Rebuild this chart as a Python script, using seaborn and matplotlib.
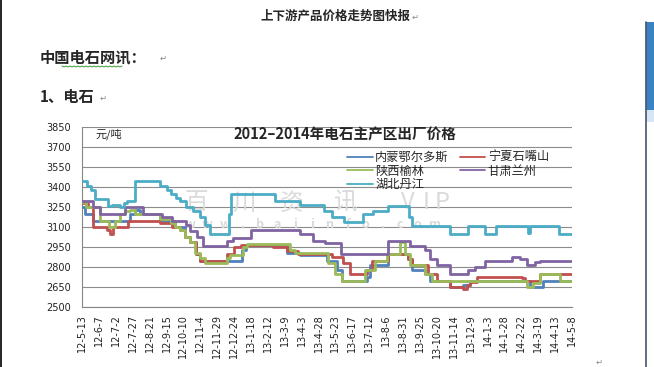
import pandas as pd
import matplotlib
matplotlib.use("Agg")
import matplotlib.pyplot as plt
from matplotlib.lines import Line2D
from matplotlib.patches import Rectangle
import seaborn as sns

regions = ["内蒙鄂尔多斯", "宁夏石嘴山", "陕西榆林", "甘肃兰州", "湖北丹江"]
colors = ["#4F81BD", "#C0504D", "#9BBB59", "#8064A2", "#4BACC6"]

# price change points (date, yuan/ton)
nm_dates = ["2012-05-13", "2012-05-17", "2012-05-29", "2012-07-23", "2012-07-30", "2012-08-07",
            "2012-09-05", "2012-09-28", "2012-10-12", "2012-10-20", "2012-10-29", "2012-11-04",
            "2013-01-05", "2013-01-11", "2013-03-12", "2013-04-01", "2013-05-10", "2013-05-25",
            "2013-06-02", "2013-07-09", "2013-07-13", "2013-08-09", "2013-09-07", "2013-09-13",
            "2013-10-03", "2013-10-10", "2013-11-09", "2013-11-28", "2013-12-08", "2014-03-07",
            "2014-03-26", "2014-05-06"]
nm_prices = [3250, 3200, 3150, 3200, 3230, 3200,
             3150, 3100, 3030, 2990, 2900, 2850,
             2930, 2965, 2910, 2890, 2850, 2780,
             2700, 2730, 2820, 2900, 2860, 2780,
             2750, 2700, 2650, 2670, 2700, 2650,
             2700, 2700]

nx_dates = ["2012-05-13", "2012-05-22", "2012-05-29", "2012-06-19", "2012-06-23", "2012-06-28",
            "2012-07-20", "2012-09-05", "2012-09-23", "2012-10-05", "2012-10-12", "2012-10-20",
            "2012-10-29", "2012-11-04", "2012-12-14", "2012-12-24", "2013-01-03", "2013-02-20",
            "2013-03-12", "2013-03-29", "2013-05-18", "2013-06-03", "2013-06-14", "2013-07-09",
            "2013-07-16", "2013-08-09", "2013-09-07", "2013-09-13", "2013-10-07", "2013-10-20",
            "2013-11-09", "2013-11-28", "2013-12-04", "2013-12-08", "2013-12-18", "2014-02-23",
            "2014-02-27", "2014-03-22", "2014-05-06"]
nx_prices = [3280, 3250, 3100, 3080, 3050, 3100,
             3150, 3130, 3100, 3080, 3030, 2990,
             2900, 2850, 2900, 2950, 2965, 2950,
             2920, 2900, 2880, 2830, 2750, 2780,
             2850, 2900, 2860, 2820, 2750, 2700,
             2650, 2640, 2670, 2690, 2730, 2720,
             2700, 2750, 2750]

sx_dates = ["2012-05-13", "2012-05-19", "2012-06-09", "2012-06-22", "2012-07-01", "2012-07-08",
            "2012-07-16", "2012-07-23", "2012-07-30", "2012-09-05", "2012-09-22", "2012-09-28",
            "2012-10-05", "2012-10-12", "2012-10-20", "2012-10-27", "2012-11-04", "2012-11-11",
            "2012-12-14", "2012-12-18", "2013-01-06", "2013-01-12", "2013-03-17", "2013-03-24",
            "2013-05-12", "2013-05-22", "2013-06-02", "2013-07-06", "2013-07-21", "2013-08-07",
            "2013-08-27", "2013-09-03", "2013-09-10", "2013-10-03", "2013-10-13", "2014-03-02",
            "2014-03-11", "2014-03-22", "2014-04-20", "2014-05-06"]
sx_prices = [3290, 3250, 3150, 3100, 3150, 3200,
             3220, 3230, 3200, 3160, 3130, 3100,
             3080, 3030, 2990, 2910, 2870, 2830,
             2870, 2890, 2955, 2975, 2930, 2910,
             2830, 2750, 2700, 2780, 2850, 2900,
             2990, 2900, 2820, 2750, 2700, 2650,
             2680, 2750, 2700, 2700]

gs_dates = ["2012-05-13", "2012-05-29", "2012-06-09", "2012-07-16", "2012-08-11", "2012-09-08",
            "2012-09-23", "2012-10-14", "2012-10-20", "2012-10-30", "2012-11-08", "2012-12-14",
            "2012-12-22", "2013-01-18", "2013-04-01", "2013-04-20", "2013-05-08", "2013-05-31",
            "2013-08-09", "2013-09-10", "2013-10-03", "2013-10-10", "2013-10-20", "2013-11-09",
            "2013-12-05", "2013-12-15", "2013-12-30", "2014-02-08", "2014-02-20", "2014-03-02",
            "2014-03-14", "2014-03-22", "2014-05-06"]
gs_prices = [3300, 3250, 3200, 3250, 3200, 3180,
             3150, 3120, 3070, 3030, 2960, 3000,
             3020, 3080, 3050, 3000, 2980, 2900,
             3000, 2960, 2930, 2860, 2820, 2750,
             2780, 2800, 2850, 2880, 2860, 2820,
             2840, 2850, 2850]

hb_dates = ["2012-05-13", "2012-05-20", "2012-05-26", "2012-06-01", "2012-06-20", "2012-06-26",
            "2012-07-08", "2012-07-14", "2012-07-18", "2012-07-30", "2012-09-05", "2012-09-16",
            "2012-09-22", "2012-09-29", "2012-10-05", "2012-10-14", "2012-10-24", "2012-11-04",
            "2012-11-11", "2012-11-18", "2012-12-17", "2012-12-19", "2013-02-23", "2013-04-01",
            "2013-05-06", "2013-05-18", "2013-06-05", "2013-07-03", "2013-07-18", "2013-08-09",
            "2013-09-09", "2013-09-13", "2013-11-09", "2013-12-05", "2013-12-30", "2014-01-16",
            "2014-03-04", "2014-03-07", "2014-04-19", "2014-05-06"]
hb_prices = [3450, 3410, 3380, 3310, 3260, 3270,
             3250, 3280, 3300, 3450, 3410, 3380,
             3350, 3320, 3300, 3250, 3220, 3180,
             3120, 3050, 3200, 3350, 3300, 3270,
             3220, 3180, 3140, 3200, 3220, 3260,
             3180, 3110, 3050, 3110, 3050, 3110,
             3060, 3110, 3050, 3050]

tick_labels = ["12-5-13", "12-6-7", "12-7-2", "12-7-27", "12-8-21", "12-9-15", "12-10-10",
               "12-11-4", "12-11-29", "12-12-24", "13-1-18", "13-2-12", "13-3-9", "13-4-3",
               "13-4-28", "13-5-23", "13-6-17", "13-7-12", "13-8-6", "13-8-31", "13-9-25",
               "13-10-20", "13-11-14", "13-12-9", "14-1-3", "14-1-28", "14-2-22", "14-3-19",
               "14-4-13", "14-5-8"]
y_ticks = [2500, 2650, 2800, 2950, 3100, 3250, 3400, 3550, 3700, 3850]

series = [(nm_dates, nm_prices), (nx_dates, nx_prices), (sx_dates, sx_prices),
          (gs_dates, gs_prices), (hb_dates, hb_prices)]
frames = []
for name, (d, p) in zip(regions, series):
    frames.append(pd.DataFrame({"date": pd.to_datetime(d), "price": p, "region": name}))
df = pd.concat(frames, ignore_index=True)

sns.set_style("white")
plt.rcParams["font.family"] = ["Noto Sans CJK SC", "DejaVu Sans"]

W, H = 654, 367
fig = plt.figure(figsize=(W / 100, H / 100), dpi=100)
ax = fig.add_axes([82 / W, 1 - 307.3 / H, 490 / W, 180 / H])

def fx(px):
    return px / W

def fy(py):
    return 1 - py / H

# watermark behind the lines, letters spread out like the original stamp
wm_big = [("百", 196), ("川", 244), ("资", 292), ("讯", 345), ("V", 408), ("I", 426), ("P", 442)]
for ch, px in wm_big:
    ax.text(fx(px), fy(203), ch, transform=fig.transFigure, fontsize=17,
            color="#dadada", ha="center", va="center", zorder=1)
wm_small = "www.baiinfo.com"
for i, ch in enumerate(wm_small):
    ax.text(fx(190 + i * 17.5), fy(224), ch, transform=fig.transFigure, fontsize=9,
            fontweight="bold", color="#dadada", ha="center", va="center", zorder=1)

sns.lineplot(data=df, x="date", y="price", hue="region", hue_order=regions,
             palette=dict(zip(regions, colors)), drawstyle="steps-post", linewidth=2.0,
             estimator=None, legend=False, ax=ax, zorder=3)

ax.set_xlim(pd.Timestamp("2012-05-13"), pd.Timestamp("2014-05-08"))
ax.set_ylim(2500, 3850)
ax.set_yticks(y_ticks)
ax.set_yticklabels([str(v) for v in y_ticks], fontsize=7, family="DejaVu Sans", color="#222222")
tick_dates = pd.date_range("2012-05-13", periods=len(tick_labels), freq="25D")
ax.set_xticks(tick_dates)
ax.set_xticklabels(tick_labels, rotation=90, fontsize=7, family="DejaVu Sans", color="#222222")
ax.set_xlabel("")
ax.set_ylabel("")
ax.yaxis.grid(True, color="#8c8c8c", linewidth=0.8)
ax.xaxis.grid(False)
ax.set_axisbelow(True)
for s in ["top", "right"]:
    ax.spines[s].set_visible(False)
for s in ["left", "bottom"]:
    ax.spines[s].set_color("#868686")
    ax.spines[s].set_linewidth(0.8)
ax.tick_params(axis="both", direction="out", length=3, width=0.8, color="#868686", pad=2)
ax.tick_params(axis="y", pad=5)
ax.patch.set_alpha(0)

# chart title and unit
fig.text(fx(345), fy(134), "2012–2014年电石主产区出厂价格", fontsize=10.5, fontweight="bold",
         ha="center", va="center")
fig.text(fx(96), fy(134), "元/吨", fontsize=8, ha="left", va="center")

handles = [Line2D([], [], color=c, linewidth=1.3) for c in colors]
order = [0, 2, 4, 1, 3]
fig.legend([handles[i] for i in order], [regions[i] for i in order], loc="upper left",
           bbox_to_anchor=(fx(347), fy(151)), ncol=2, frameon=False, fontsize=8.8,
           handlelength=2.1, handletextpad=0.2, columnspacing=0.9, labelspacing=0.05,
           borderpad=0, borderaxespad=0)

# document text around the chart
fig.text(fx(335), fy(16), "上下游产品价格走势图快报", fontsize=9, fontweight="bold",
         ha="center", va="center")
fig.text(fx(40), fy(57), "中国电石网讯：", fontsize=11, fontweight="bold", ha="left", va="center")
fig.text(fx(40), fy(97), "1、电石", fontsize=11, fontweight="bold", ha="left", va="center")
for px, py in [(412, 17), (160, 58), (100, 98), (596, 362)]:
    fig.text(fx(px), fy(py), "↵", fontsize=6, color="#888888", family="DejaVu Sans",
             ha="left", va="center")
# green squiggle under 电石网讯
sq_x = [fx(62 + i * 2) for i in range(31)]
sq_y = [fy(66 + (i % 2)) for i in range(31)]
fig.add_artist(Line2D(sq_x, sq_y, color="#3a9a3a", linewidth=0.7))

# left page border and right side panel
fig.add_artist(Line2D([fx(0.5), fx(0.5)], [0, 1], color="black", linewidth=1.2))
fig.add_artist(Line2D([fx(645.5), fx(645.5)], [fy(22), 0], color="#44546a", linewidth=1.2))
fig.add_artist(Rectangle((fx(646), fy(110)), fx(8), 88 / H, color="#3b82c4", lw=0))
fig.add_artist(Rectangle((fx(646), fy(122)), fx(8), 12 / H, color="#d6e6f5", lw=0))

fig.savefig("out.png", dpi=100, facecolor="white")
